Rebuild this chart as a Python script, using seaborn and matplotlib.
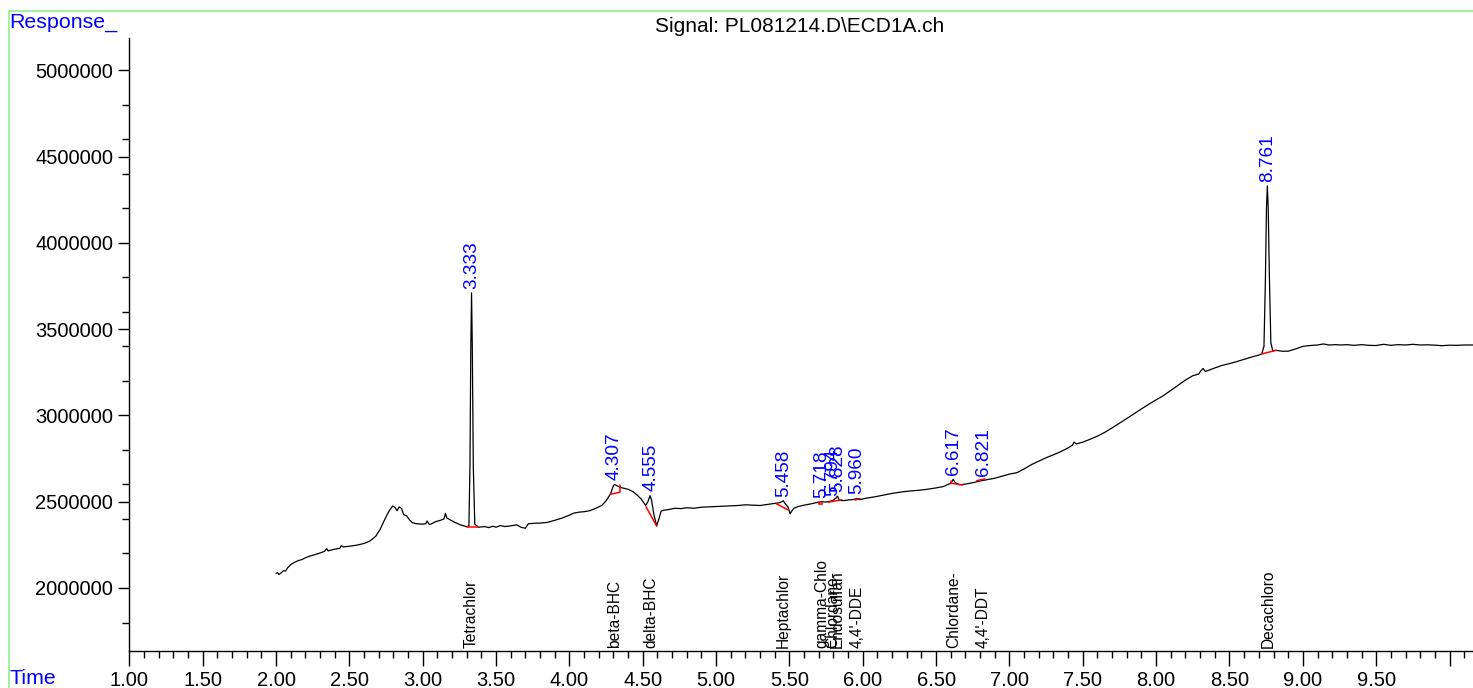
import matplotlib
matplotlib.use('Agg')
import matplotlib.pyplot as plt
from matplotlib.lines import Line2D
from matplotlib.ticker import MultipleLocator, FuncFormatter
import pandas as pd
import seaborn as sns

# signal trace (time in min, response)
times = [
    2.000, 2.010, 2.020, 2.035, 2.050, 2.065, 2.080, 2.100, 2.120, 2.150,
    2.180, 2.200, 2.230, 2.260, 2.290, 2.330, 2.345, 2.355, 2.400, 2.435,
    2.445, 2.460, 2.500, 2.550, 2.600, 2.640, 2.680, 2.710, 2.740, 2.770,
    2.795, 2.810, 2.825, 2.840, 2.855, 2.870, 2.890, 2.910, 2.930, 2.960,
    3.000, 3.020, 3.030, 3.045, 3.060, 3.090, 3.120, 3.145, 3.155, 3.165,
    3.180, 3.220, 3.260, 3.300, 3.315, 3.322, 3.328, 3.333, 3.338, 3.345,
    3.355, 3.380, 3.420, 3.450, 3.480, 3.500, 3.530, 3.560, 3.600, 3.640,
    3.670, 3.700, 3.720, 3.760, 3.800, 3.850, 3.900, 3.950, 4.000, 4.030,
    4.070, 4.100, 4.140, 4.180, 4.220, 4.250, 4.280, 4.300, 4.307, 4.330,
    4.360, 4.400, 4.430, 4.460, 4.490, 4.520, 4.535, 4.550, 4.560, 4.575,
    4.595, 4.610, 4.625, 4.640, 4.680, 4.720, 4.760, 4.800, 4.850, 4.900,
    4.950, 5.000, 5.050, 5.100, 5.150, 5.200, 5.250, 5.300, 5.350, 5.400,
    5.430, 5.450, 5.458, 5.470, 5.490, 5.505, 5.515, 5.530, 5.560, 5.600,
    5.650, 5.700, 5.720, 5.750, 5.790, 5.800, 5.815, 5.828, 5.840, 5.870,
    5.900, 5.930, 5.960, 5.980, 6.020, 6.080, 6.140, 6.200, 6.260, 6.320,
    6.380, 6.440, 6.500, 6.550, 6.580, 6.600, 6.617, 6.630, 6.660, 6.700,
    6.750, 6.800, 6.850, 6.900, 6.950, 7.000, 7.050, 7.100, 7.150, 7.200,
    7.250, 7.300, 7.350, 7.400, 7.430, 7.440, 7.455, 7.500, 7.550, 7.600,
    7.650, 7.700, 7.750, 7.800, 7.850, 7.900, 7.950, 8.000, 8.050, 8.100,
    8.150, 8.200, 8.250, 8.290, 8.305, 8.320, 8.335, 8.360, 8.400, 8.450,
    8.500, 8.550, 8.600, 8.650, 8.700, 8.720, 8.735, 8.745, 8.752, 8.758,
    8.764, 8.772, 8.782, 8.795, 8.817, 8.860, 8.900, 8.950, 9.000, 9.050,
    9.100, 9.140, 9.180, 9.220, 9.260, 9.300, 9.350, 9.400, 9.450, 9.500,
    9.550, 9.600, 9.650, 9.700, 9.750, 9.800, 9.850, 9.900, 9.950, 10.000,
    10.050, 10.100, 10.160,
]
response = [
    2085000, 2090000, 2078000, 2088000, 2100000, 2098000, 2118000, 2135000, 2146000, 2158000,
    2166000, 2175000, 2185000, 2192000, 2200000, 2212000, 2228000, 2215000, 2225000, 2230000,
    2245000, 2238000, 2242000, 2248000, 2258000, 2272000, 2300000, 2340000, 2395000, 2445000,
    2475000, 2468000, 2448000, 2470000, 2462000, 2425000, 2418000, 2395000, 2378000, 2372000,
    2370000, 2372000, 2388000, 2368000, 2372000, 2385000, 2392000, 2400000, 2432000, 2405000,
    2398000, 2380000, 2365000, 2355000, 2360000, 2700000, 3400000, 3710000, 3400000, 2700000,
    2370000, 2352000, 2356000, 2350000, 2358000, 2352000, 2362000, 2356000, 2360000, 2366000,
    2352000, 2346000, 2372000, 2375000, 2376000, 2380000, 2392000, 2405000, 2422000, 2434000,
    2440000, 2442000, 2448000, 2462000, 2478000, 2505000, 2545000, 2592000, 2600000, 2590000,
    2580000, 2572000, 2560000, 2540000, 2515000, 2478000, 2500000, 2535000, 2510000, 2430000,
    2360000, 2400000, 2445000, 2450000, 2455000, 2462000, 2460000, 2465000, 2462000, 2468000,
    2470000, 2472000, 2474000, 2476000, 2478000, 2482000, 2480000, 2478000, 2484000, 2490000,
    2494000, 2500000, 2506000, 2490000, 2470000, 2430000, 2445000, 2462000, 2472000, 2480000,
    2488000, 2498000, 2500000, 2498000, 2505000, 2510000, 2520000, 2532000, 2508000, 2506000,
    2510000, 2512000, 2518000, 2512000, 2520000, 2528000, 2538000, 2548000, 2556000, 2562000,
    2566000, 2572000, 2580000, 2588000, 2600000, 2606000, 2630000, 2610000, 2598000, 2602000,
    2610000, 2620000, 2628000, 2636000, 2648000, 2660000, 2668000, 2690000, 2715000, 2735000,
    2755000, 2772000, 2790000, 2812000, 2828000, 2845000, 2835000, 2845000, 2862000, 2880000,
    2902000, 2928000, 2955000, 2982000, 3010000, 3038000, 3065000, 3090000, 3115000, 3145000,
    3175000, 3205000, 3230000, 3240000, 3258000, 3272000, 3255000, 3262000, 3275000, 3290000,
    3300000, 3312000, 3325000, 3338000, 3350000, 3356000, 3400000, 3800000, 4200000, 4330000,
    4200000, 3800000, 3420000, 3375000, 3377000, 3372000, 3372000, 3385000, 3400000, 3405000,
    3408000, 3414000, 3408000, 3410000, 3408000, 3410000, 3406000, 3410000, 3406000, 3405000,
    3412000, 3406000, 3410000, 3408000, 3412000, 3408000, 3409000, 3407000, 3404000, 3407000,
    3406000, 3408000, 3408000,
]

# integrated peaks: retention time, apex response, compound name
peak_rt = [3.333, 4.307, 4.555, 5.458, 5.718, 5.794, 5.828, 5.960, 6.617, 6.821, 8.761]
peak_top = [3710000, 2600000, 2535000, 2506000, 2500000, 2510000, 2532000, 2518000, 2630000, 2624000, 4330000]
peak_name = ['Tetrachlor', 'beta-BHC', 'delta-BHC', 'Heptachlor', 'gamma-Chlo', 'Chlordane-',
             'Endosulfan', "4,4'-DDE", 'Chlordane-', "4,4'-DDT", 'Decachloro']

# red integration baselines (t0, r0, t1, r1)
base_t0 = [3.300, 4.280, 4.344, 4.522, 5.413, 5.702, 5.702, 5.724, 5.765, 5.947, 6.602, 6.602, 6.777, 8.719]
base_r0 = [2355000, 2543000, 2555000, 2471000, 2487000, 2485000, 2485000, 2485000, 2497000, 2510000, 2607000, 2607000, 2622000, 3356000]
base_t1 = [3.379, 4.344, 4.344, 4.595, 5.492, 5.724, 5.702, 5.724, 5.856, 5.981, 6.682, 6.602, 6.833, 8.817]
base_r1 = [2355000, 2555000, 2595000, 2359000, 2452000, 2485000, 2500000, 2500000, 2511000, 2518000, 2597000, 2622000, 2632000, 3377000]

trace = pd.DataFrame({'time': times, 'response': response})

sns.set_style('ticks')
plt.rcParams['font.family'] = ['Liberation Sans', 'DejaVu Sans']
plt.rcParams['text.color'] = 'black'
plt.rcParams['xtick.color'] = 'black'
plt.rcParams['ytick.color'] = 'black'

fig = plt.figure(figsize=(14.73, 6.88), dpi=100)
ax = fig.add_axes([0.0878, 0.0538, 0.9122, 0.891])

sns.lineplot(data=trace, x='time', y='response', ax=ax, color='black',
             linewidth=0.9, estimator=None, sort=False)

for t0, r0, t1, r1 in zip(base_t0, base_r0, base_t1, base_r1):
    ax.plot([t0, t1], [r0, r1], color='red', linewidth=1.1)

for rt, top, name in zip(peak_rt, peak_top, peak_name):
    ax.annotate(f'{rt:.3f}', xy=(rt, top), xytext=(0, 3), textcoords='offset points',
                rotation=90, ha='center', va='bottom', color='blue', fontsize=13.7)
    ax.annotate(name, xy=(rt, 0), xycoords=('data', 'axes fraction'), xytext=(0, 2.5),
                textcoords='offset points', rotation=90, ha='center', va='bottom',
                color='black', fontsize=11.2)

ax.set_xlim(1.0, 10.16)
ax.set_ylim(1635000, 5187000)
ax.xaxis.set_major_locator(MultipleLocator(0.5))
ax.xaxis.set_minor_locator(MultipleLocator(0.1))
ax.xaxis.set_major_formatter(FuncFormatter(lambda v, p: '' if v > 9.75 else f'{v:.2f}'))
ax.yaxis.set_major_locator(MultipleLocator(500000))
ax.yaxis.set_minor_locator(MultipleLocator(200000))
ax.yaxis.set_major_formatter(FuncFormatter(lambda v, p: f'{int(round(v))}'))
ax.tick_params(axis='both', which='major', labelsize=14.5, length=8, width=1,
               color='black', labelcolor='black')
ax.tick_params(axis='x', which='major', length=11)
ax.tick_params(axis='both', which='minor', length=5, width=1, color='black')
ax.set_xlabel('')
ax.set_ylabel('')
for side in ['top', 'right']:
    ax.spines[side].set_visible(False)
for side in ['left', 'bottom']:
    ax.spines[side].set_color('black')
    ax.spines[side].set_linewidth(1)

fig.text(0.543, 0.961, 'Signal: PL081214.D\\ECD1A.ch', ha='center', va='center',
         fontsize=15, color='black')
fig.text(0.0065, 1 - 13 / 688, 'Response_', ha='left', va='top', color='blue', fontsize=15.4)
fig.text(0.0065, 9 / 688, 'Time', ha='left', va='center', color='blue', fontsize=15.4)

frame = '#90ee90'
fig.add_artist(Line2D([9 / 1473, 1], [1 - 11 / 688, 1 - 11 / 688], color=frame, linewidth=1.2))
fig.add_artist(Line2D([9 / 1473, 9 / 1473], [0, 1 - 11 / 688], color=frame, linewidth=1.2))

fig.savefig('out.png', dpi=100)
